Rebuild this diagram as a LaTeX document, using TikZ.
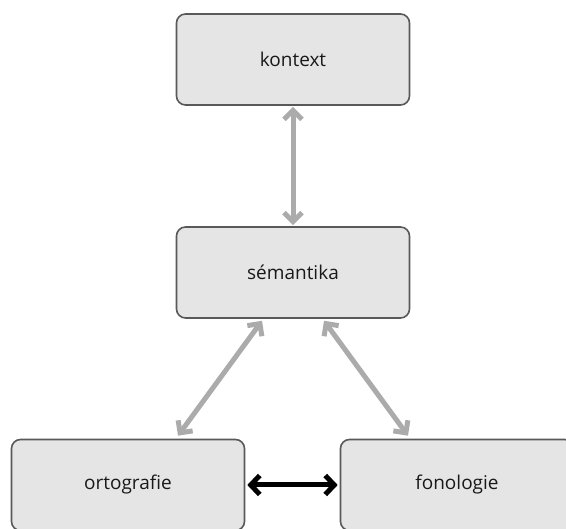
\documentclass[tikz,border=0pt]{standalone}
\usepackage{fontspec}
\setmainfont{Open Sans}
\usetikzlibrary{arrows.meta}

\begin{document}
\begin{tikzpicture}[
    x=1pt, y=-1pt,
    every node/.style={font=\fontsize{19}{22}\selectfont, align=center, text=black!90},
    level/.style={rectangle, draw=black!65, fill=black!10, line width=1.6pt, rounded corners=9pt, minimum width=233pt, minimum height=91pt, inner sep=0pt},
    link/.style={{Straight Barb[length=9pt,width=18pt]}-{Straight Barb[length=9pt,width=18pt]}, line width=5pt, black!33},
    pair/.style={{Straight Barb[length=9pt,width=19pt]}-{Straight Barb[length=9pt,width=19pt]}, line width=5pt, black}
]
\useasboundingbox (0,0) rectangle (566,529);
\clip (0,0) rectangle (566,529);

% top and middle
\node[level] (kontext) at (293, 59.5) {kontext};
\node[level] (semantika) at (293, 272.5) {sémantika};

% bottom row, cut by the edge
\node[level] (ortografie) at (128, 485) {ortografie};
\node[level] (fonologie) at (457, 485) {fonologie};

% arrows
\draw[link] ([yshift=-1pt]kontext.south) -- ([yshift=1pt]semantika.north);
\draw[link] ([xshift=-31pt,yshift=-2pt]semantika.south) -- ([xshift=50pt,yshift=3pt]ortografie.north);
\draw[link] ([xshift=31pt,yshift=-2pt]semantika.south) -- ([xshift=-49pt,yshift=3pt]fonologie.north);
\draw[pair] ([xshift=2pt]ortografie.east) -- ([xshift=-2pt]fonologie.west);
\end{tikzpicture}
\end{document}
